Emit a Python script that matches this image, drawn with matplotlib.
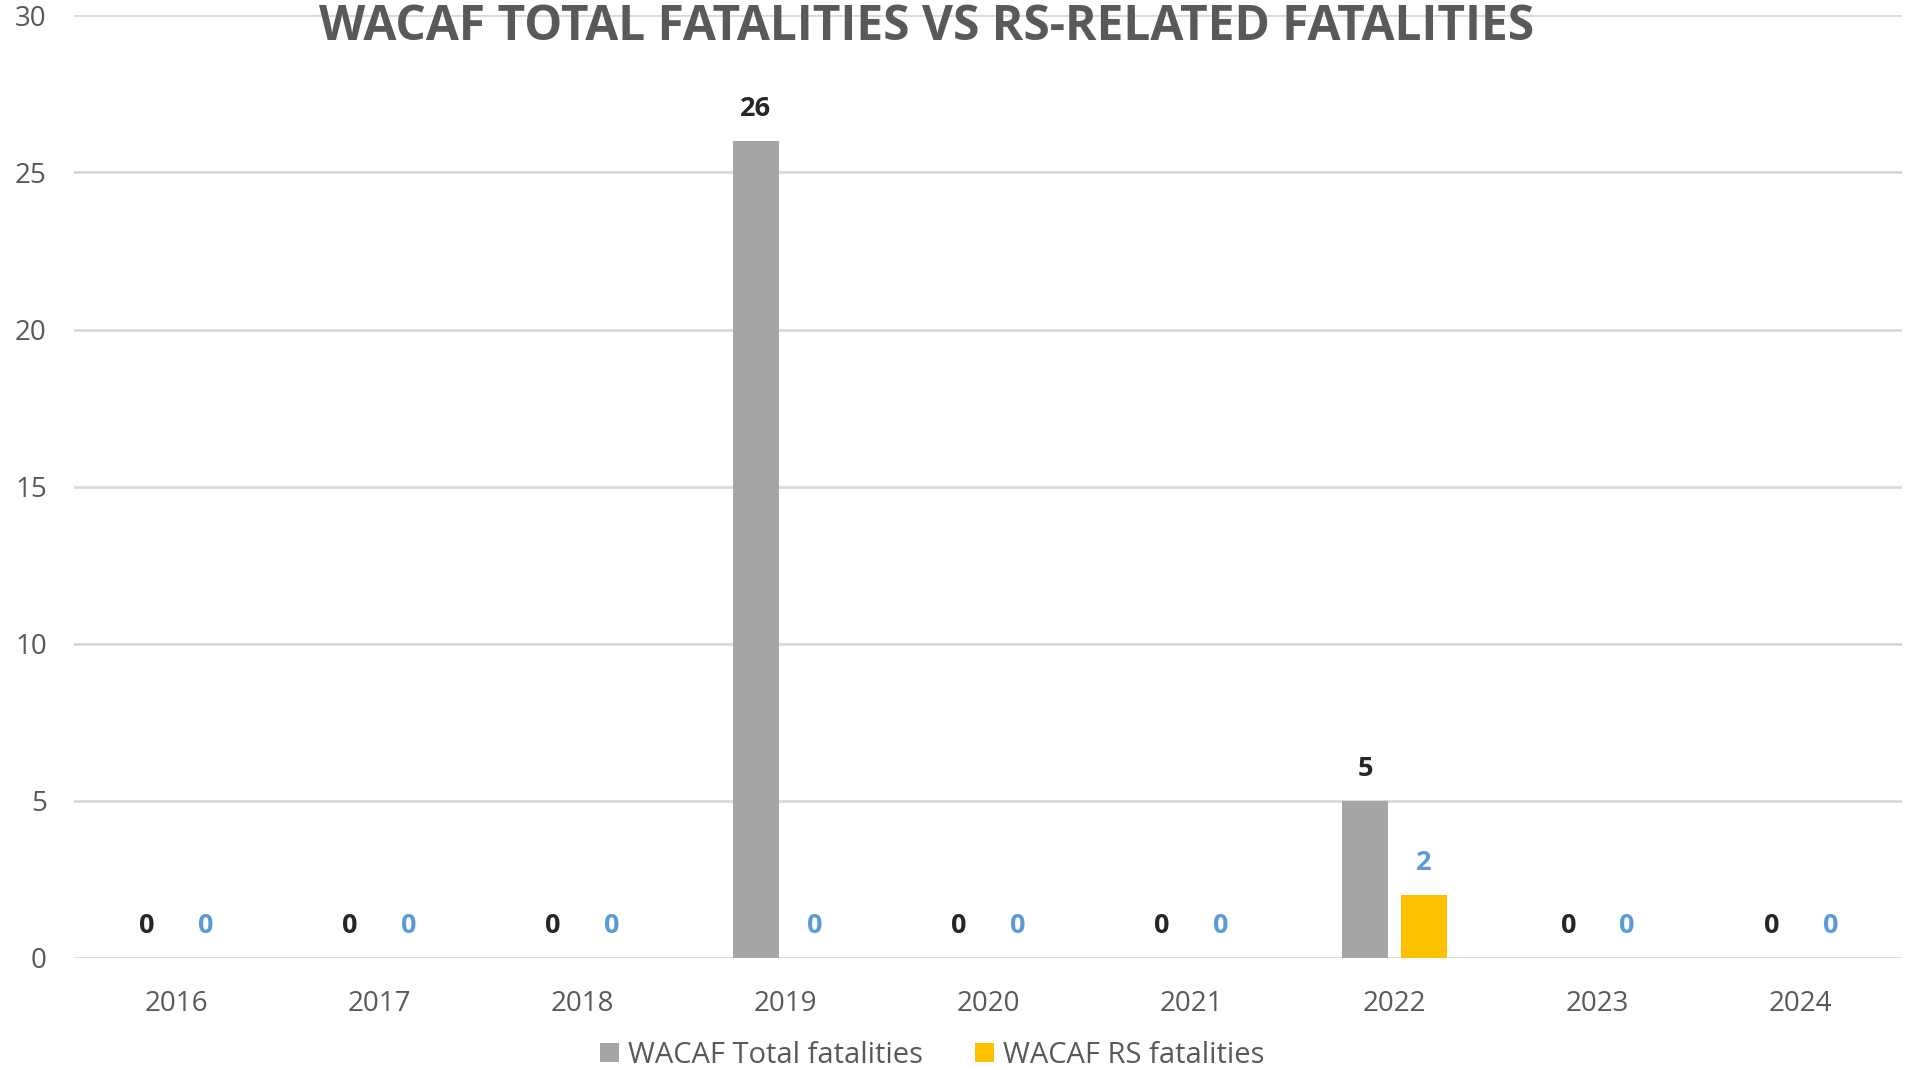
import matplotlib
matplotlib.use("Agg")
import matplotlib.pyplot as plt
import numpy as np

years = ["2016", "2017", "2018", "2019", "2020", "2021", "2022", "2023", "2024"]
total_fatalities = [0, 0, 0, 26, 0, 0, 5, 0, 0]
rs_fatalities = [0, 0, 0, 0, 0, 0, 2, 0, 0]
yticks = [0, 5, 10, 15, 20, 25, 30]

plt.rcParams['font.family'] = ['Open Sans', 'DejaVu Sans']

fig = plt.figure(figsize=(19.1, 10.7), dpi=100)
ax = fig.add_axes([0.039, 0.1047, 0.957, 0.881])

x = np.arange(len(years))
w = 0.225
off = 0.145
b1 = ax.bar(x - off, total_fatalities, w, color="#A5A5A5", label="WACAF Total fatalities", zorder=3)
b2 = ax.bar(x + off, rs_fatalities, w, color="#FFC000", label="WACAF RS fatalities", zorder=3)

for xi, v in zip(x - off, total_fatalities):
    ax.annotate(str(v), (xi, v), xytext=(0, 23), textcoords="offset points",
                ha="center", va="center", fontsize=19.5, fontweight="bold", color="#262626")
for xi, v in zip(x + off, rs_fatalities):
    ax.annotate(str(v), (xi, v), xytext=(0, 23), textcoords="offset points",
                ha="center", va="center", fontsize=19.5, fontweight="bold", color="#5B9BD5")

ax.set_xlim(-0.5, len(years) - 0.5)
ax.set_ylim(0, 30)
ax.set_yticks(yticks)
ax.set_xticks(x)
ax.set_xticklabels(years)
ax.yaxis.grid(True, color="#D9D9D9", linewidth=2, zorder=0)
ax.set_axisbelow(True)
for s in ["top", "right", "left", "bottom"]:
    ax.spines[s].set_visible(False)
ax.tick_params(axis="both", length=0, labelsize=20, labelcolor="#595959")
ax.tick_params(axis="y", pad=20)
ax.tick_params(axis="x", pad=23)

fig.text(0.485, 0.9626, "WACAF TOTAL FATALITIES VS RS-RELATED FATALITIES",
         ha="center", va="baseline", fontsize=34.5, fontweight="bold", color="#595959")

fig.legend(handles=[b1, b2], loc="center", bbox_to_anchor=(0.488, 0.014), ncol=2,
           frameon=False, fontsize=21, labelcolor="#595959", handlelength=0.65,
           handleheight=0.65, handletextpad=0.3, columnspacing=1.8)

fig.savefig("out.png", dpi=100)
